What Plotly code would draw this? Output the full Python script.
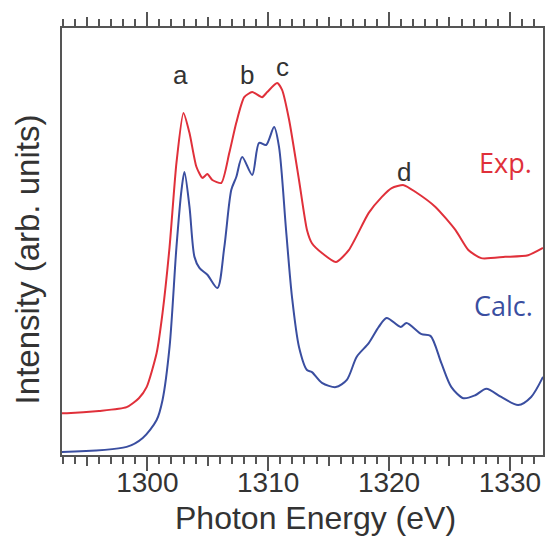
import plotly.graph_objects as go

# Experimental spectrum (photon energy in eV, intensity in arb. units)
exp_energy = [1292.94, 1293.35, 1296.0, 1298.29, 1299.3, 1299.94, 1300.77, 1301.26,
              1301.84, 1302.41, 1302.99, 1303.49, 1304.06, 1304.56, 1304.97, 1305.38,
              1306.12, 1306.78, 1307.36, 1308.02, 1308.68, 1309.50, 1309.92, 1310.74,
              1311.15, 1311.73, 1312.55, 1313.21, 1313.62, 1314.45, 1315.60, 1316.67,
              1318.32, 1319.39, 1320.22, 1321.21, 1322.20, 1323.84, 1325.49, 1326.56,
              1327.63, 1329.61, 1331.51, 1332.74]
exp_intensity = [9.8, 9.8, 10.3, 11.2, 13.3, 15.9, 23.9, 33.3,
                 48.7, 68.4, 80.1, 75.4, 67.5, 64.9, 65.8, 64.4,
                 63.7, 70.7, 77.8, 83.8, 85.0, 83.8, 85.0, 87.1,
                 85.5, 78.5, 64.4, 52.7, 49.6, 47.3, 45.2, 48.0,
                 56.7, 60.4, 62.5, 63.2, 61.6, 58.1, 52.7, 48.0,
                 46.1, 46.4, 46.8, 48.5]

# Calculated spectrum
calc_energy = [1292.94, 1298.29, 1299.62, 1300.77, 1301.26, 1301.84, 1302.41, 1302.83,
               1303.07, 1303.49, 1303.90, 1304.31, 1304.97, 1305.80, 1306.37, 1306.95,
               1307.36, 1307.85, 1308.68, 1309.25, 1309.83, 1310.49, 1310.90, 1311.48,
               1311.97, 1312.55, 1313.21, 1313.62, 1314.45, 1315.60, 1316.51, 1317.33,
               1318.32, 1319.15, 1319.80, 1320.96, 1321.45, 1322.69, 1323.43, 1324.33,
               1325.16, 1326.15, 1327.14, 1328.05, 1329.28, 1330.69, 1331.76, 1332.74]
calc_intensity = [0.7, 1.9, 4.0, 8.2, 12.9, 25.3, 48.7, 62.1,
                  66.3, 58.1, 46.4, 43.8, 42.2, 39.1, 48.7, 62.1,
                  65.1, 69.8, 65.6, 73.1, 72.6, 76.8, 72.1, 52.7,
                  37.0, 25.3, 19.9, 19.4, 16.9, 15.9, 17.6, 23.0,
                  26.2, 30.0, 32.1, 30.0, 30.9, 28.3, 27.9, 21.5,
                  15.9, 13.3, 14.0, 15.5, 13.6, 11.7, 13.6, 18.3]

# Peak labels
peak_names = ["a", "b", "c", "d"]
peak_energy = [1302.76, 1308.27, 1311.15, 1321.21]
peak_height = [89.0, 89.0, 90.9, 66.3]

x_range = [1292.94, 1332.74]
x_ticks = [1300, 1310, 1320, 1330]

RED = "#e0303a"
BLUE = "#3a4ea0"
INK = "#333333"
AXIS = "#555555"
FONT = "Liberation Sans, Arial, sans-serif"

fig = go.Figure()
fig.add_trace(go.Scatter(x=exp_energy, y=exp_intensity, mode="lines",
                         line=dict(color=RED, width=2, shape="spline", smoothing=0.6),
                         showlegend=False))
fig.add_trace(go.Scatter(x=calc_energy, y=calc_intensity, mode="lines",
                         line=dict(color=BLUE, width=2, shape="spline", smoothing=0.8),
                         showlegend=False))

annotations = []
for name, e, h in zip(peak_names, peak_energy, peak_height):
    annotations.append(dict(x=e, y=h, xref="x", yref="y", text=name, showarrow=False,
                            font=dict(family=FONT, size=26, color=INK)))
annotations.append(dict(x=1329.62, y=68.6, xref="x", yref="y", text="Exp.", showarrow=False,
                        font=dict(family="Open Sans, sans-serif", size=27, color=RED)))
annotations.append(dict(x=1329.5, y=35.1, xref="x", yref="y", text="Calc.", showarrow=False,
                        font=dict(family="Open Sans, sans-serif", size=27, color=BLUE)))
annotations.append(dict(x=0.527, y=-0.148, xref="paper", yref="paper",
                        text="Photon Energy (eV)", showarrow=False,
                        xanchor="center", yanchor="middle",
                        font=dict(family=FONT, size=32, color=INK)))
annotations.append(dict(x=-0.072, y=0.459, xref="paper", yref="paper",
                        text="Intensity (arb. units)", showarrow=False, textangle=-90,
                        xanchor="center", yanchor="middle",
                        font=dict(family=FONT, size=33, color=INK)))

tick_style = dict(range=x_range, overlaying="x", side="bottom", showticklabels=False,
                  mirror="allticks", showline=False, showgrid=False, zeroline=False,
                  ticks="outside", tickwidth=2, tickcolor=AXIS)

fig.update_layout(
    width=547, height=536,
    margin=dict(l=62, r=2, t=28, b=81),
    paper_bgcolor="white", plot_bgcolor="white",
    annotations=annotations,
    # labelled axis with the short 1 eV ticks
    xaxis=dict(range=x_range, tickmode="array", tickvals=x_ticks,
               ticks="outside", ticklen=1, tickwidth=2, tickcolor=AXIS,
               minor=dict(dtick=1, tick0=1300, ticks="outside", ticklen=7,
                          tickwidth=2, tickcolor=AXIS),
               showline=True, linewidth=2, linecolor=AXIS, mirror="allticks",
               showgrid=False, zeroline=False,
               tickfont=dict(family=FONT, size=28, color=INK)),
    # medium ticks every 5 eV
    xaxis2=dict(tickmode="linear", tick0=1295, dtick=5, ticklen=10, **tick_style),
    # long ticks every 10 eV
    xaxis3=dict(tickmode="linear", tick0=1300, dtick=10, ticklen=15, **tick_style),
    yaxis=dict(range=[0, 100], showticklabels=False, ticks="",
               showline=True, linewidth=2, linecolor=AXIS, mirror=True,
               showgrid=False, zeroline=False),
)
# empty traces that bring the tick-only axes into the layout
for ax in ["x2", "x3"]:
    fig.add_trace(go.Scatter(x=[x_range[0]], y=[None], xaxis=ax, mode="lines",
                             showlegend=False, hoverinfo="skip"))

fig.write_html("out.html")
